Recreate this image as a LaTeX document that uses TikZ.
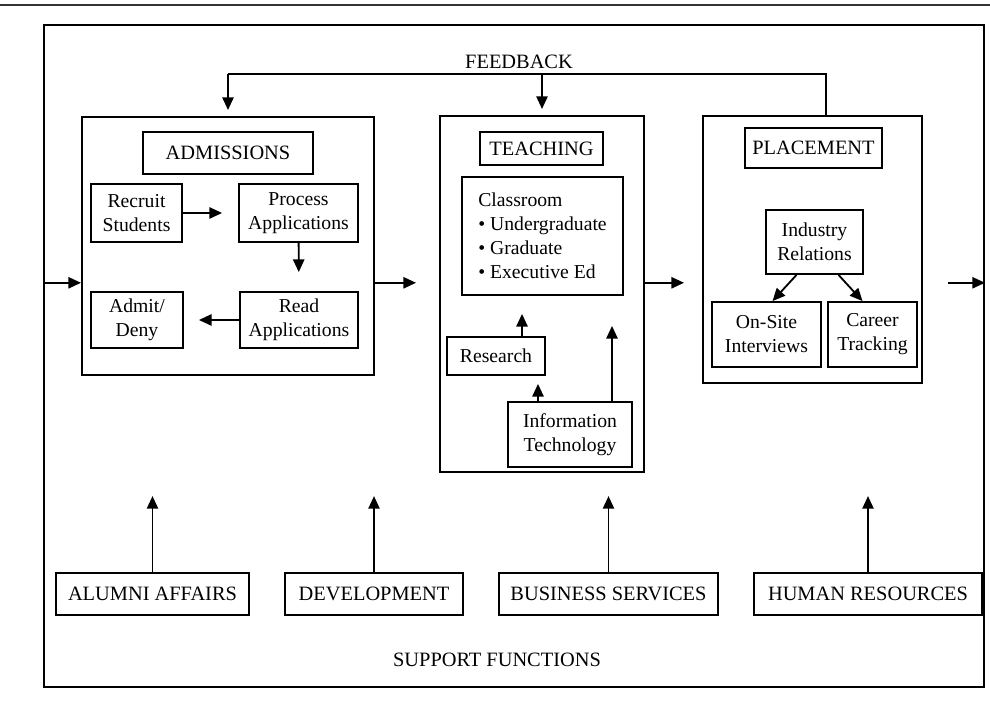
\documentclass[tikz,border=0pt]{standalone}
\usepackage{fontspec}
\setmainfont{Liberation Serif}
\usetikzlibrary{arrows.meta, positioning, calc}

\begin{document}
\begin{tikzpicture}[
    every node/.style={font=\fontsize{14}{17}\selectfont},
    line/.style={line width=1.3pt},
    arr/.style={line, -{Triangle[length=9pt, width=8pt]}},
    box/.style={draw, line width=1.3pt, inner sep=0pt, align=center},
    capfont/.style={font=\fontsize{14.5}{17}\selectfont},
    head/.style={box, capfont},
    area/.style={draw, line width=1.4pt, inner sep=0pt},
]
\useasboundingbox (0,0) rectangle (24.75,17.65);

% page rule and outer frame
\draw[line width=1.8pt, black!80] (0,17.525) -- (24.75,17.525);
\node[area, minimum width=23.50cm, minimum height=16.55cm] (frame) at (12.85,8.75) {};

% admissions
\node[area, minimum width=7.30cm, minimum height=6.45cm] (adm) at (5.70,11.50) {};
\node[head, minimum width=4.25cm, minimum height=1.05cm] (admhead) at (5.70,13.825) {ADMISSIONS};
\node[box, minimum width=2.275cm, minimum height=1.45cm] (recruit) at (3.4125,12.325) {Recruit\\Students};
\node[box, minimum width=2.975cm, minimum height=1.45cm] (process) at (7.4625,12.325) {Process\\Applications};
\node[box, minimum width=2.95cm, minimum height=1.40cm] (read) at (7.475,9.65) {Read\\Applications};
\node[box, minimum width=2.30cm, minimum height=1.40cm] (admit) at (3.425,9.65) {Admit/\\Deny};
\draw[arr, shorten >=4mm] (recruit) -- (process);
\draw[arr, shorten >=4.75mm] (process) -- (read);
\draw[arr, shorten >=3.75mm] (read) -- (admit);

% teaching
\node[area, minimum width=5.10cm, minimum height=8.90cm] (teach) at (13.55,10.30) {};
\node[head, minimum width=3.075cm, minimum height=0.825cm] (teachhead) at (13.5375,13.9375) {TEACHING};
\node[box, minimum width=4.025cm, minimum height=2.95cm, align=left] (class) at (13.5625,11.75)
    {Classroom\\\textbullet\ Undergraduate\\\textbullet\ Graduate\\\textbullet\ Executive Ed};
\node[box, minimum width=2.45cm, minimum height=0.95cm] (research) at (12.40,8.75) {Research};
\node[box, minimum width=3.10cm, minimum height=1.625cm] (it) at (14.25,6.7875) {Information\\Technology};
\draw[arr, shorten >=4.5mm] ([xshift=6.5mm]research.north) -- ([xshift=6.5mm]research.north |- class.south);
\draw[arr, shorten >=2mm] ([xshift=-8mm]it.north) -- ([xshift=-8mm]it.north |- research.south);
\draw[arr, shorten >=7.5mm] ([xshift=10.5mm]it.north) -- ([xshift=10.5mm]it.north |- class.south);

% placement
\node[area, minimum width=5.475cm, minimum height=6.675cm] (place) at (20.3125,11.4125) {};
\node[head, minimum width=3.425cm, minimum height=1.0cm] (placehead) at (20.3375,13.95) {PLACEMENT};
\node[box, minimum width=2.425cm, minimum height=1.60cm] (industry) at (20.3625,11.60) {Industry\\Relations};
\node[box, minimum width=2.725cm, minimum height=1.625cm] (onsite) at (19.1625,9.2875) {On-Site\\Interviews};
\node[box, minimum width=2.225cm, minimum height=1.625cm] (career) at (21.8125,9.2875) {Career\\Tracking};
\draw[arr] ([xshift=-4.5mm]industry.south) -- ([xshift=1.5mm]onsite.north);
\draw[arr] ([xshift=6mm]industry.south) -- ([xshift=-2.5mm]career.north);

% main flow, left to right
\coordinate (in) at (1.10,10.58);
\draw[arr] (in) -- (in -| adm.west);
\draw[arr, shorten >=5.75mm] (in -| adm.east) -- (in -| teach.west);
\draw[arr, shorten >=4.5mm] (in -| teach.east) -- (in -| place.west);
\draw[arr, shorten <=6.25mm] (in -| place.east) -- (in -| frame.east);

% feedback
\node[capfont] (fbtext) at (12.975,16.10) {FEEDBACK};
\coordinate (fb) at (20.65,15.80);
\draw[line] (fb |- place.north) -- (fb) -- (fb -| adm.north);
\draw[arr, shorten >=1.5mm] (fb -| adm.north) -- (adm.north);
\draw[arr, shorten >=1.5mm] (fb -| teach.north) -- (teach.north);

% support functions
\node[head, minimum width=4.825cm, minimum height=1.05cm] (alumni) at (3.8125,2.80) {ALUMNI AFFAIRS};
\node[head, minimum width=4.45cm, minimum height=1.05cm] (devel) at (9.35,2.80) {DEVELOPMENT};
\node[head, minimum width=5.475cm, minimum height=1.05cm] (business) at (15.2125,2.80) {BUSINESS SERVICES};
\node[head, minimum width=5.70cm, minimum height=1.05cm] (human) at (21.70,2.80) {HUMAN RESOURCES};
\foreach \n in {alumni, devel, business, human}{
    \draw[arr] (\n.north) -- ++(0,1.9);
}
\node[capfont] (support) at (12.425,1.15) {SUPPORT FUNCTIONS};
\end{tikzpicture}
\end{document}
